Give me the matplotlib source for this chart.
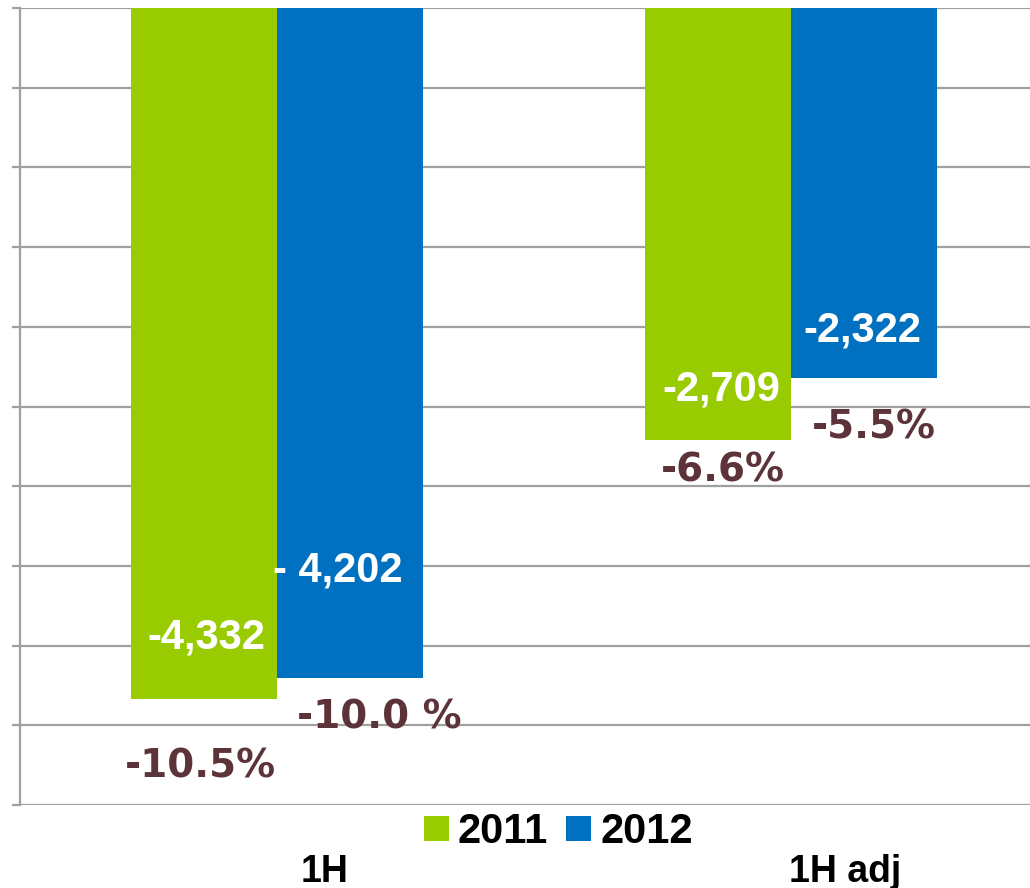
import matplotlib
matplotlib.use("Agg")
import matplotlib.pyplot as plt
from matplotlib.patches import Patch
import numpy as np

# ---- data ----
categories = ["1H", "1H adj"]
series_names = ["2011", "2012"]
values_2011 = [-4332, -2709]
values_2012 = [-4202, -2322]
value_labels_2011 = ["-4,332", "-2,709"]
value_labels_2012 = ["- 4,202", "-2,322"]
pct_labels_2011 = ["-10.5%", "-6.6%"]
pct_labels_2012 = ["-10.0 %", "-5.5%"]

# ---- style ----
GREEN = "#99CC00"
BLUE = "#0070C0"
PCT_COLOR = "#5C3338"
GRID = "#A0A0A0"
W, H, DPI = 1030, 888, 100

fig = plt.figure(figsize=(W / DPI, H / DPI), dpi=DPI)
ax = fig.add_axes([20 / W, 1 - 805 / H, 1028 / W, 797 / H])

x = np.arange(len(categories))
bw = 0.284
bars1 = ax.bar(x - bw / 2, values_2011, bw, color=GREEN, zorder=3)
bars2 = ax.bar(x + bw / 2, values_2012, bw, color=BLUE, zorder=3)

ax.set_xlim(-0.5, 1.5)
ax.set_ylim(-5000, 0)
ax.set_yticks(np.arange(-5000, 1, 500))
ax.set_yticklabels([])
ax.set_xticks([])
ax.yaxis.grid(True, color=GRID, linewidth=1.6, zorder=0)
ax.tick_params(axis="y", length=6, width=1.6, color=GRID)
for s in ["top", "right", "bottom"]:
    ax.spines[s].set_visible(False)
ax.spines["left"].set_color(GRID)
ax.spines["left"].set_linewidth(1.6)

# label offsets in pixels (dx, dy baseline relative to bar end)
val_off_2011 = [(2, 50), (3, 39)]
val_off_2012 = [(-12, 96), (-2, 37)]
pct_off_2011 = [(-4, -79), (5, -42)]
pct_off_2012 = [(29, -51), (10, -60)]

vfont = dict(family=["Liberation Sans", "DejaVu Sans"], weight="bold", size=30)
pfont = dict(family=["DejaVu Sans"], weight="bold", size=28)

for xs, vals, vlabs, plabs, voff, poff in [
    (x - bw / 2, values_2011, value_labels_2011, pct_labels_2011, val_off_2011, pct_off_2011),
    (x + bw / 2, values_2012, value_labels_2012, pct_labels_2012, val_off_2012, pct_off_2012),
]:
    for xi, v, vl, pl, vo, po in zip(xs, vals, vlabs, plabs, voff, poff):
        ax.annotate(vl, xy=(xi, v), xytext=vo, textcoords="offset pixels",
                    ha="center", va="baseline", color="white", zorder=5, **vfont)
        ax.annotate(pl, xy=(xi, v), xytext=po, textcoords="offset pixels",
                    ha="center", va="baseline", color=PCT_COLOR, zorder=5,
                    annotation_clip=False, **pfont)

# category labels
cat_off = [(48, -77), (54, -77)]
for xi, c, off in zip(x, categories, cat_off):
    ax.annotate(c, xy=(xi, -5000), xytext=off, textcoords="offset pixels",
                ha="center", va="baseline", color="black", annotation_clip=False,
                family=["Liberation Sans", "DejaVu Sans"], weight="bold", size=27)

# legend
handles = [Patch(facecolor=GREEN, edgecolor="none"), Patch(facecolor=BLUE, edgecolor="none")]
leg = fig.legend(handles, series_names, loc="center", ncol=2,
                 bbox_to_anchor=(558 / W, 1 - 832 / H), frameon=False,
                 prop=dict(family=["Liberation Sans", "DejaVu Sans"], weight="bold", size=30),
                 handlelength=0.6, handleheight=0.55, handletextpad=0.22,
                 columnspacing=0.43, borderpad=0, borderaxespad=0)

fig.savefig("out.png", dpi=DPI)
